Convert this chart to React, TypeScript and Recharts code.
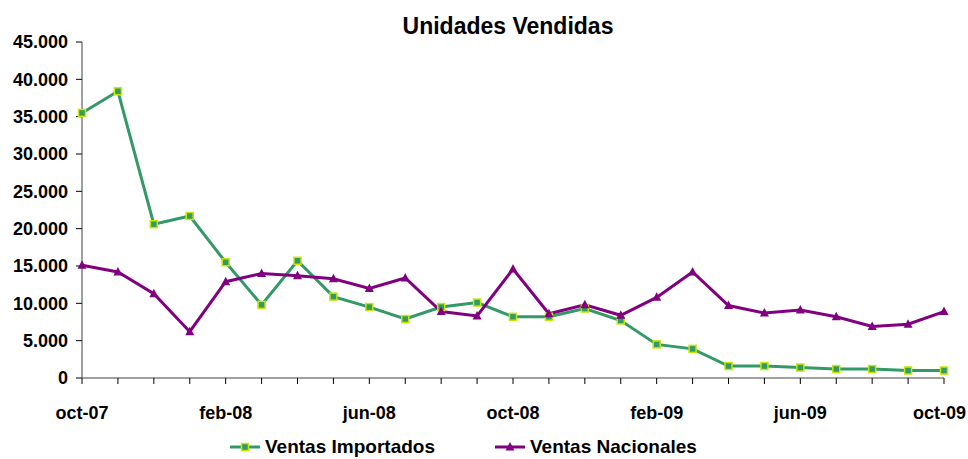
import React from "react";
import { LineChart, Line, XAxis, YAxis, Legend } from "recharts";

const months = [
  "oct-07", "nov-07", "dic-07", "ene-08", "feb-08", "mar-08", "abr-08", "may-08", "jun-08",
  "jul-08", "ago-08", "sep-08", "oct-08", "nov-08", "dic-08", "ene-09", "feb-09", "mar-09",
  "abr-09", "may-09", "jun-09", "jul-09", "ago-09", "sep-09", "oct-09",
];

const importados = [
  35500, 38400, 20600, 21700, 15500, 9800, 15700, 10900, 9500, 7900, 9500, 10100, 8200,
  8200, 9300, 7700, 4500, 3900, 1600, 1600, 1400, 1200, 1200, 1000, 1000,
];

const nacionales = [
  15100, 14200, 11300, 6200, 12900, 14000, 13700, 13300, 12000, 13400, 8900, 8300, 14600,
  8600, 9800, 8400, 10800, 14200, 9700, 8700, 9100, 8200, 6900, 7200, 8900,
];

const yTicks = [0, 5000, 10000, 15000, 20000, 25000, 30000, 35000, 40000, 45000];

const data = months.map((m, i) => ({
  month: m,
  importados: importados[i],
  nacionales: nacionales[i],
}));

const FONT = "'Liberation Sans', Arial, sans-serif";
const GREEN = "#339966";
const LIME = "#c4e800";
const PURPLE = "#800080";

const fmt = (v: number) => (v === 0 ? "0" : v.toLocaleString("de-DE"));

const SquareDot = (props: any) => {
  const { cx, cy } = props;
  if (cx == null || cy == null) return null;
  return (
    <rect x={cx - 3.5} y={cy - 3.5} width={7} height={7} fill={GREEN} stroke={LIME} strokeWidth={1.5} />
  );
};

const TriDot = (props: any) => {
  const { cx, cy } = props;
  if (cx == null || cy == null) return null;
  return (
    <path d={`M${cx},${cy - 5}L${cx + 4.5},${cy + 3.5}L${cx - 4.5},${cy + 3.5}Z`} fill={PURPLE} />
  );
};

const XTick = (props: any) => {
  const { x, y, payload, index } = props;
  if (index % 4 !== 0) return <g />;
  const last = index === months.length - 1;
  return (
    <text
      x={last ? x + 22 : x}
      y={y}
      dy={33}
      textAnchor={last ? "end" : "middle"}
      fontFamily={FONT}
      fontWeight="bold"
      fontSize={18}
      fill="#000"
    >
      {payload.value}
    </text>
  );
};

const LegendContent = () => (
  <div style={{ display: "flex", alignItems: "center", paddingLeft: 230, fontFamily: FONT, fontWeight: "bold", fontSize: 19, color: "#000" }}>
    <svg width={30} height={10} style={{ marginRight: 5 }}>
      <line x1={0} y1={5} x2={30} y2={5} stroke={GREEN} strokeWidth={3} />
      <rect x={11.5} y={1.5} width={7} height={7} fill={GREEN} stroke={LIME} strokeWidth={1.5} />
    </svg>
    <span>Ventas Importados</span>
    <svg width={30} height={10} style={{ marginLeft: 60, marginRight: 5 }}>
      <line x1={0} y1={5} x2={30} y2={5} stroke={PURPLE} strokeWidth={3} />
      <path d="M15,0L19.5,8.5L10.5,8.5Z" fill={PURPLE} />
    </svg>
    <span>Ventas Nacionales</span>
  </div>
);

export default function App() {
  return (
    <div style={{ position: "absolute", left: 0, top: 0, width: 968, height: 459, background: "#fff" }}>
      <div
        style={{
          position: "absolute",
          left: 0,
          width: 1016,
          top: 13,
          textAlign: "center",
          fontFamily: FONT,
          fontWeight: "bold",
          fontSize: 23,
          color: "#000",
        }}
      >
        Unidades Vendidas
      </div>
      <LineChart width={968} height={459} data={data} margin={{ top: 42, right: 24, bottom: 10, left: 0 }}>
        <XAxis
          dataKey="month"
          interval={0}
          tick={<XTick />}
          tickSize={6}
          axisLine={{ stroke: "#808080", strokeWidth: 1.5 }}
          tickLine={{ stroke: "#000" }}
          height={46}
        />
        <YAxis
          width={82}
          domain={[0, 45000]}
          ticks={yTicks}
          tickFormatter={fmt}
          tickSize={6}
          tickMargin={8}
          axisLine={{ stroke: "#808080", strokeWidth: 1.5 }}
          tickLine={{ stroke: "#000" }}
          tick={{ fontFamily: FONT, fontWeight: "bold", fontSize: 18, fill: "#000" }}
          interval={0}
        />
        <Legend
          verticalAlign="bottom"
          content={<LegendContent />}
          wrapperStyle={{ left: 0, width: 968, height: 25, top: 436 }}
        />
        <Line
          dataKey="importados"
          name="Ventas Importados"
          stroke={GREEN}
          strokeWidth={3}
          dot={<SquareDot />}
          activeDot={false}
          isAnimationActive={false}
        />
        <Line
          dataKey="nacionales"
          name="Ventas Nacionales"
          stroke={PURPLE}
          strokeWidth={3}
          dot={<TriDot />}
          activeDot={false}
          isAnimationActive={false}
        />
      </LineChart>
    </div>
  );
}
